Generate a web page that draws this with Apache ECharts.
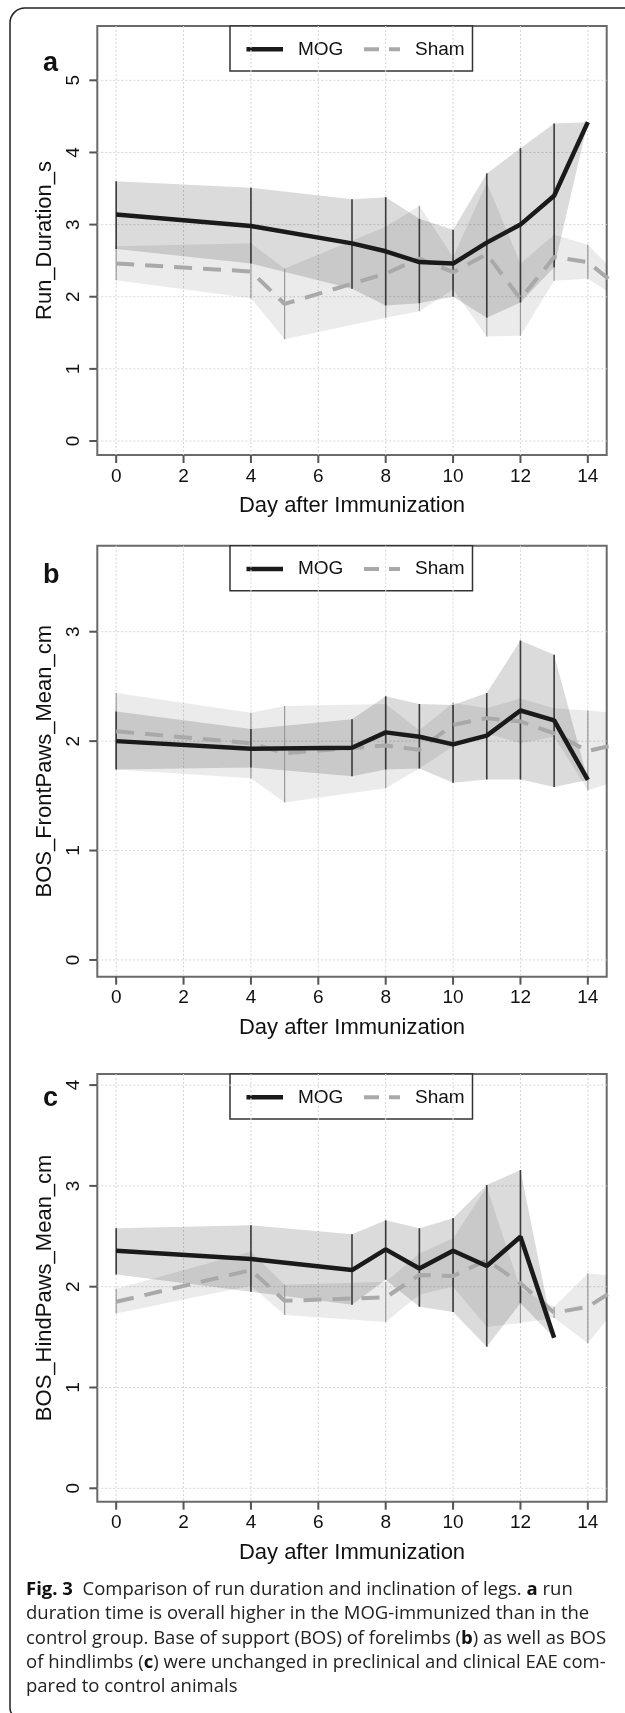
<!DOCTYPE html>
<html>
<head>
<meta charset="utf-8">
<title>Fig. 3</title>
<script src="https://cdn.jsdelivr.net/npm/echarts@6.0.0/dist/echarts.min.js"></script>
<style>
  html, body { margin: 0; padding: 0; background: #fff; }
  #main { width: 625px; height: 1713px; }
</style>
</head>
<body>
<div id="main"></div>
<script>
// measurement days
const mogDays = [0, 4, 7, 8, 9, 10, 11, 12, 13, 14];
const mogDaysHind = [0, 4, 7, 8, 9, 10, 11, 12, 13];
const shamDays = [0, 4, 5, 8, 9, 10, 11, 12, 13, 14, 15];
const dayTicks = [0, 2, 4, 6, 8, 10, 12, 14];

// a: run duration
const runTicks = [0, 1, 2, 3, 4, 5];
const runMog = [3.14, 2.98, 2.74, 2.63, 2.48, 2.46, 2.75, 3.00, 3.40, 4.42];
const runMogLo = [2.66, 2.46, 2.11, 1.88, 1.91, 2.00, 1.71, 1.92, 2.41, 4.42];
const runMogHi = [3.60, 3.51, 3.35, 3.38, 3.08, 2.93, 3.71, 4.06, 4.40, 4.42];
const runSham = [2.46, 2.35, 1.90, 2.32, 2.53, 2.34, 2.59, 1.97, 2.55, 2.48, 2.10];
const runShamLo = [2.23, 1.98, 1.41, 1.71, 1.80, 2.10, 1.45, 1.46, 2.22, 2.25, 1.95];
const runShamHi = [2.70, 2.74, 2.39, 2.97, 3.26, 2.55, 3.58, 2.46, 2.86, 2.72, 2.25];

// b: front paws
const frontTicks = [0, 1, 2, 3];
const frontMog = [2.00, 1.93, 1.94, 2.08, 2.04, 1.97, 2.05, 2.28, 2.19, 1.645];
const frontMogLo = [1.74, 1.76, 1.68, 1.74, 1.75, 1.62, 1.65, 1.65, 1.58, 1.645];
const frontMogHi = [2.27, 2.11, 2.20, 2.41, 2.34, 2.33, 2.44, 2.92, 2.79, 1.645];
const frontSham = [2.09, 1.98, 1.89, 1.96, 1.92, 2.15, 2.21, 2.18, 2.07, 1.91, 1.98];
const frontShamLo = [1.74, 1.66, 1.44, 1.57, 1.75, 1.95, 2.07, 1.98, 2.04, 1.55, 1.65];
const frontShamHi = [2.44, 2.26, 2.32, 2.34, 2.10, 2.35, 2.30, 2.39, 2.30, 2.28, 2.25];

// c: hind paws
const hindTicks = [0, 1, 2, 3, 4];
const hindMog = [2.357, 2.274, 2.165, 2.37, 2.18, 2.357, 2.205, 2.496, 1.494];
const hindMogLo = [2.12, 1.95, 1.82, 2.07, 1.80, 1.75, 1.405, 1.835, 1.494];
const hindMogHi = [2.58, 2.61, 2.52, 2.66, 2.58, 2.68, 3.01, 3.157, 1.494];
const hindSham = [1.85, 2.165, 1.86, 1.894, 2.116, 2.106, 2.264, 2.033, 1.742, 1.80, 2.01];
const hindShamLo = [1.735, 2.01, 1.72, 1.65, 1.92, 2.00, 1.60, 1.64, 1.69, 1.44, 1.85];
const hindShamHi = [1.98, 2.35, 2.02, 2.05, 2.33, 2.48, 2.99, 1.98, 1.80, 2.13, 2.10];

const FONT = '"Liberation Sans", Arial, sans-serif';
const CAP_FONT = '"Open Sans", "Noto Sans", sans-serif';

const panels = [
  { label: 'a', top: 26, height: 429, yMin: -0.194, yMax: 5.753, yTicks: runTicks, yName: 'Run_Duration_s',
    mog: [mogDays, runMog, runMogLo, runMogHi], sham: [shamDays, runSham, runShamLo, runShamHi], labelY: 50 },
  { label: 'b', top: 545.7, height: 431, yMin: -0.153, yMax: 3.786, yTicks: frontTicks, yName: 'BOS_FrontPaws_Mean_cm',
    mog: [mogDays, frontMog, frontMogLo, frontMogHi], sham: [shamDays, frontSham, frontShamLo, frontShamHi], labelY: 561.7 },
  { label: 'c', top: 1074, height: 427.7, yMin: -0.133, yMax: 4.11, yTicks: hindTicks, yName: 'BOS_HindPaws_Mean_cm',
    mog: [mogDaysHind, hindMog, hindMogLo, hindMogHi], sham: [shamDays, hindSham, hindShamLo, hindShamHi], labelY: 1085 }
];

function zip(xs, ys) { return xs.map((x, i) => [x, ys[i]]); }

// dotted grid (inside) or tick marks (outside) at the axis values
function axisMarks(gi, ticks, vertical, outside) {
  return {
    type: 'custom', xAxisIndex: gi, yAxisIndex: gi, silent: true, z: outside ? 6 : 1,
    data: ticks.map(v => vertical ? [v, 0] : [0, v]),
    renderItem: function (params, api) {
      const cs = params.coordSys;
      const p = api.coord([api.value(0), api.value(1)]);
      let shape;
      if (outside) {
        shape = vertical
          ? { x1: p[0], y1: cs.y + cs.height, x2: p[0], y2: cs.y + cs.height + 8 }
          : { x1: cs.x, y1: p[1], x2: cs.x - 8, y2: p[1] };
        return { type: 'line', shape: shape, style: { stroke: '#555', lineWidth: 2 } };
      }
      shape = vertical
        ? { x1: p[0], y1: cs.y, x2: p[0], y2: cs.y + cs.height }
        : { x1: cs.x, y1: p[1], x2: cs.x + cs.width, y2: p[1] };
      return { type: 'line', shape: shape, style: { stroke: '#d6d6d6', lineWidth: 1, lineDash: [2, 2] } };
    }
  };
}

function band(gi, xs, lo, hi, color) {
  const rows = xs.map((x, i) => [x, lo[i], hi[i]]);
  return {
    type: 'custom', xAxisIndex: gi, yAxisIndex: gi, silent: true, clip: true, z: 2,
    data: rows,
    encode: { x: 0, y: [1, 2] },
    renderItem: function (params, api) {
      if (params.dataIndex !== 0) return null;
      const cs = params.coordSys;
      const upper = rows.map(r => api.coord([r[0], r[2]]));
      const lower = rows.map(r => api.coord([r[0], r[1]])).reverse();
      return {
        type: 'polygon',
        shape: { points: upper.concat(lower) },
        style: { fill: color },
        clipPath: { type: 'rect', shape: { x: cs.x, y: cs.y, width: cs.width, height: cs.height } }
      };
    }
  };
}

function errBars(gi, xs, lo, hi, color, w) {
  return {
    type: 'custom', xAxisIndex: gi, yAxisIndex: gi, silent: true, clip: true, z: 3,
    data: xs.map((x, i) => [x, lo[i], hi[i]]),
    encode: { x: 0, y: [1, 2] },
    renderItem: function (params, api) {
      const cs = params.coordSys;
      if (api.value(2) - api.value(1) < 1e-6) return null;
      const a = api.coord([api.value(0), api.value(1)]);
      const b = api.coord([api.value(0), api.value(2)]);
      if (a[0] > cs.x + cs.width || a[0] < cs.x) return null;
      return { type: 'line', shape: { x1: a[0], y1: a[1], x2: b[0], y2: b[1] }, style: { stroke: color, lineWidth: w } };
    }
  };
}

const grids = [], xAxes = [], yAxes = [], series = [], graphics = [];

panels.forEach((p, i) => {
  grids.push({ left: 97.3, top: p.top, width: 509.4, height: p.height, show: true,
    borderColor: '#6a6a6a', borderWidth: 2, backgroundColor: 'transparent' });
  xAxes.push({
    type: 'value', gridIndex: i, min: -0.56, max: 14.56,
    axisLine: { show: false },
    axisTick: { show: false },
    axisLabel: { customValues: dayTicks, fontSize: 19, color: '#111', fontFamily: FONT, margin: 12 },
    splitLine: { show: false },
    name: 'Day after Immunization', nameLocation: 'middle', nameGap: 40,
    nameTextStyle: { fontSize: 22, color: '#111', fontFamily: FONT }
  });
  yAxes.push({
    type: 'value', gridIndex: i, min: p.yMin, max: p.yMax,
    axisLine: { show: false },
    axisTick: { show: false },
    axisLabel: { customValues: p.yTicks, rotate: 90, fontSize: 19, color: '#111', fontFamily: FONT, margin: 14 },
    splitLine: { show: false },
    name: p.yName, nameLocation: 'middle', nameGap: 38, nameRotate: 90,
    nameTextStyle: { fontSize: 22, color: '#111', fontFamily: FONT }
  });

  series.push(axisMarks(i, dayTicks, true, false));
  series.push(axisMarks(i, p.yTicks, false, false));
  series.push(axisMarks(i, dayTicks, true, true));
  series.push(axisMarks(i, p.yTicks, false, true));
  series.push(band(i, p.sham[0], p.sham[2], p.sham[3], 'rgba(0,0,0,0.08)'));
  series.push(band(i, p.mog[0], p.mog[2], p.mog[3], 'rgba(0,0,0,0.14)'));
  series.push(errBars(i, p.sham[0], p.sham[2], p.sham[3], '#9a9a9a', 1.2));
  series.push(errBars(i, p.mog[0], p.mog[2], p.mog[3], '#3a3a3a', 1.6));
  series.push({
    name: 'Sham', type: 'line', xAxisIndex: i, yAxisIndex: i, z: 4, clip: true,
    data: zip(p.sham[0], p.sham[1]), symbol: 'none', silent: true,
    lineStyle: { color: '#a9a9a9', width: 4, type: [18, 11] }
  });
  series.push({
    name: 'MOG', type: 'line', xAxisIndex: i, yAxisIndex: i, z: 5, clip: true,
    data: zip(p.mog[0], p.mog[1]), symbol: 'none', silent: true,
    lineStyle: { color: '#1a1a1a', width: 4.5 }
  });

  // legend box
  const T = p.top, cy = T + 23.3;
  graphics.push({
    type: 'group', z: 100, children: [
      { type: 'rect', shape: { x: 230, y: T, width: 242.5, height: 45 }, style: { fill: '#fff', stroke: '#333', lineWidth: 1.5 } },
      { type: 'line', shape: { x1: 246.5, y1: cy, x2: 283, y2: cy }, style: { stroke: '#1a1a1a', lineWidth: 4.5 } },
      { type: 'text', x: 298, y: cy, style: { text: 'MOG', fontSize: 19, fontFamily: FONT, fill: '#111', verticalAlign: 'middle' } },
      { type: 'line', shape: { x1: 364, y1: cy, x2: 400, y2: cy }, style: { stroke: '#a9a9a9', lineWidth: 4, lineDash: [15, 10] } },
      { type: 'text', x: 415, y: cy, style: { text: 'Sham', fontSize: 19, fontFamily: FONT, fill: '#111', verticalAlign: 'middle' } }
    ]
  });
  // panel letter
  graphics.push({ type: 'text', x: 43, y: p.labelY, z: 100,
    style: { text: p.label, fontSize: 27, fontWeight: 'bold', fontFamily: FONT, fill: '#111', verticalAlign: 'alphabetic' } });
});

// outer frame
graphics.push({ type: 'rect', z: 90, shape: { x: 10, y: 8, width: 700, height: 1710, r: [15, 0, 0, 10] },
  style: { fill: 'none', stroke: '#222', lineWidth: 1.5 } });

// caption
const capLines = [
  '{b|Fig. 3}  Comparison of run duration and inclination of legs. {b|a} run',
  'duration time is overall higher in the MOG-immunized than in the',
  'control group. Base of support (BOS) of forelimbs ({b|b}) as well as BOS',
  'of hindlimbs ({b|c}) were unchanged in preclinical and clinical EAE com-',
  'pared to control animals'
];
capLines.forEach((t, k) => {
  graphics.push({ type: 'text', x: 26, y: 1590 + k * 24.2, z: 100,
    style: { text: t, fontSize: 18.5, fontFamily: CAP_FONT, fill: '#222', verticalAlign: 'middle',
      rich: { b: { fontWeight: 'bold', fontSize: 18.5, fontFamily: CAP_FONT, fill: '#111' } } } });
});

const chart = echarts.init(document.getElementById('main'), null, { renderer: 'canvas' });
chart.setOption({
  animation: false,
  backgroundColor: '#fff',
  grid: grids,
  xAxis: xAxes,
  yAxis: yAxes,
  series: series,
  graphic: graphics
});
</script>
</body>
</html>
